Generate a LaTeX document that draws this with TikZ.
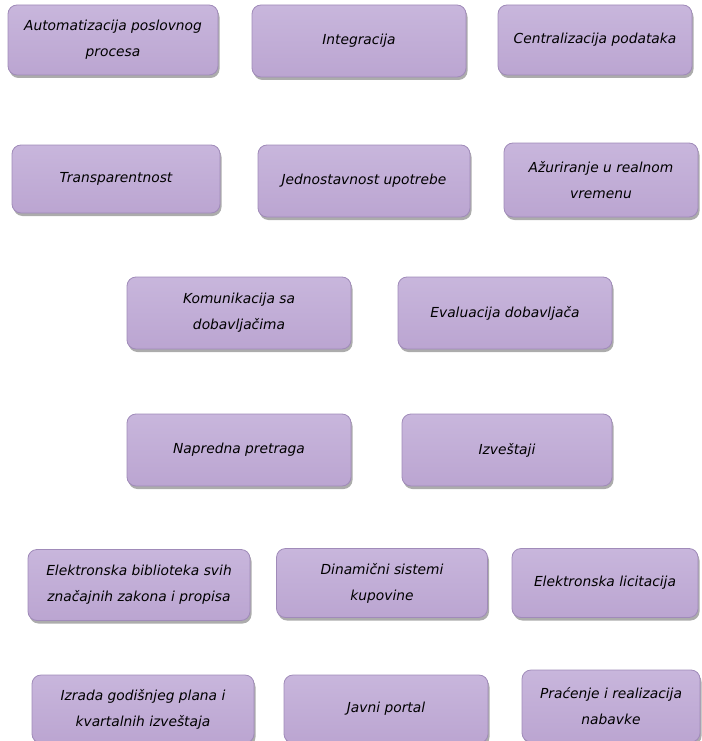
\documentclass[tikz,border=0pt]{standalone}
\usepackage{fontspec}
\setmainfont{DejaVu Sans}
\usetikzlibrary{shadows}
\definecolor{boxtop}{HTML}{C8B6DC}
\definecolor{boxbot}{HTML}{BBA5D1}
\definecolor{boxline}{HTML}{A08BB9}
\tikzset{
  pbox/.style={rectangle, rounded corners=9pt, draw=boxline, line width=0.8pt,
    top color=boxtop, bottom color=boxbot,
    drop shadow={shadow xshift=1.5pt, shadow yshift=-3pt, opacity=0.5, fill=black!65},
    align=center, inner sep=2pt,
    font=\fontsize{13.8}{26}\selectfont\itshape, text=black}
}
\begin{document}
\begin{tikzpicture}[x=1pt,y=-1pt]
\useasboundingbox (0,0) rectangle (701,741);
% row 1
\node[pbox, minimum width=210pt, minimum height=70pt] (a) at (113,40) {Automatizacija poslovnog\\procesa};
\node[pbox, minimum width=214pt, minimum height=72pt] (b) at (359,41) {Integracija};
\node[pbox, minimum width=194pt, minimum height=70pt] (c) at (595,40) {Centralizacija podataka};
% row 2
\node[pbox, minimum width=208pt, minimum height=68pt] (d) at (116,179) {Transparentnost};
\node[pbox, minimum width=212pt, minimum height=72pt] (e) at (364,181) {Jednostavnost upotrebe};
\node[pbox, minimum width=194pt, minimum height=74pt] (f) at (601,180) {Ažuriranje u realnom\\vremenu};
% row 3
\node[pbox, minimum width=224pt, minimum height=72pt] (g) at (239,313) {Komunikacija sa\\dobavljačima};
\node[pbox, minimum width=214pt, minimum height=72pt] (h) at (505,313) {Evaluacija dobavljača};
% row 4
\node[pbox, minimum width=224pt, minimum height=72pt] (i) at (239,450) {Napredna pretraga};
\node[pbox, minimum width=210pt, minimum height=72pt] (j) at (507,450) {Izveštaji};
% row 5
\node[pbox, minimum width=222pt, minimum height=71pt] (k) at (139,585) {Elektronska biblioteka svih\\značajnih zakona i propisa};
\node[pbox, minimum width=211pt, minimum height=69pt] (l) at (382,583) {Dinamični sistemi\\kupovine};
\node[pbox, minimum width=186pt, minimum height=69pt] (m) at (605,583) {Elektronska licitacija};
% row 6
\node[pbox, minimum width=222pt, minimum height=68pt] (n) at (143,709) {Izrada godišnjeg plana i\\kvartalnih izveštaja};
\node[pbox, minimum width=204pt, minimum height=68pt] (o) at (386,709) {Javni portal};
\node[pbox, minimum width=178pt, minimum height=72pt] (p) at (611,706) {Praćenje i realizacija\\nabavke};
\end{tikzpicture}
\end{document}
